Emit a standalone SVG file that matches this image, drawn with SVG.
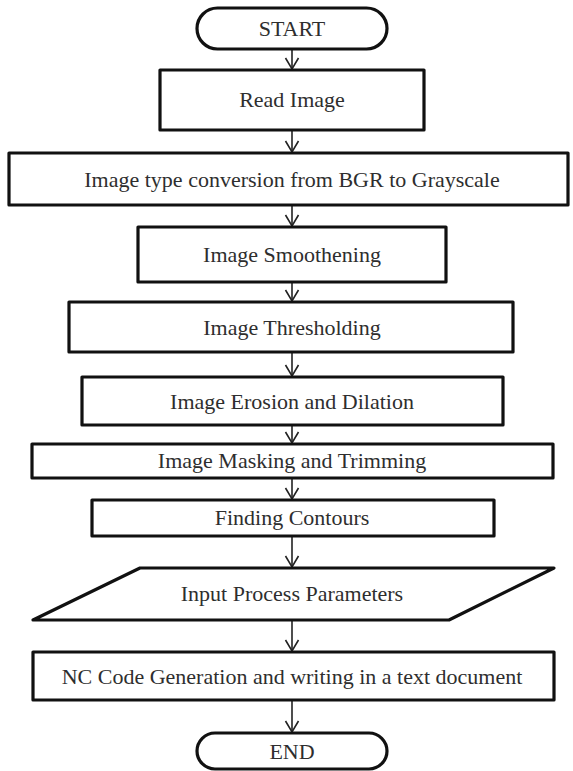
<svg xmlns="http://www.w3.org/2000/svg" width="573" height="771" viewBox="0 0 573 771">
<defs>
<style>
.box{fill:#fff;stroke:#111;stroke-width:3.2;stroke-linejoin:round}
.lbl{font-family:"Liberation Serif","Times New Roman",Times,"DejaVu Serif",serif;font-size:22px;fill:#2e2e2e;text-anchor:middle}
.conn{stroke:#222;stroke-width:1.6;fill:none}
</style>
<marker id="ah" markerWidth="16" markerHeight="16" viewBox="0 0 16 16" refX="13" refY="8" orient="auto" markerUnits="userSpaceOnUse">
<path d="M2,1.5 L13,8 L2,14.5" fill="none" stroke="#222" stroke-width="1.6"/>
</marker>
</defs>
<rect width="573" height="771" fill="#fff"/>
<g id="connectors">
<line class="conn" x1="292" y1="49" x2="292" y2="69" marker-end="url(#ah)"/>
<line class="conn" x1="292" y1="131" x2="292" y2="152" marker-end="url(#ah)"/>
<line class="conn" x1="292" y1="206" x2="292" y2="226" marker-end="url(#ah)"/>
<line class="conn" x1="292" y1="283" x2="292" y2="301" marker-end="url(#ah)"/>
<line class="conn" x1="292" y1="353" x2="292" y2="376" marker-end="url(#ah)"/>
<line class="conn" x1="292" y1="426" x2="292" y2="443" marker-end="url(#ah)"/>
<line class="conn" x1="292" y1="479" x2="292" y2="499" marker-end="url(#ah)"/>
<line class="conn" x1="292" y1="537" x2="292" y2="567" marker-end="url(#ah)"/>
<line class="conn" x1="292" y1="621" x2="292" y2="651" marker-end="url(#ah)"/>
<line class="conn" x1="292" y1="701" x2="292" y2="732" marker-end="url(#ah)"/>
</g>
<g id="start">
<rect class="box" x="197" y="8" width="190" height="41" rx="20.5"/>
<text class="lbl" x="292" y="36">START</text>
</g>
<g id="read">
<rect class="box" x="160" y="70" width="264" height="60"/>
<text class="lbl" x="292" y="107">Read Image</text>
</g>
<g id="convert">
<rect class="box" x="9" y="153" width="559" height="52"/>
<text class="lbl" x="292" y="187">Image type conversion from BGR to Grayscale</text>
</g>
<g id="smooth">
<rect class="box" x="138" y="227" width="308" height="55"/>
<text class="lbl" x="292" y="262">Image Smoothening</text>
</g>
<g id="threshold">
<rect class="box" x="69" y="302" width="444" height="50"/>
<text class="lbl" x="292" y="335">Image Thresholding</text>
</g>
<g id="erosion">
<rect class="box" x="82" y="377" width="421" height="48"/>
<text class="lbl" x="292" y="409">Image Erosion and Dilation</text>
</g>
<g id="masking">
<rect class="box" x="32" y="444" width="521" height="34"/>
<text class="lbl" x="292" y="468">Image Masking and Trimming</text>
</g>
<g id="contours">
<rect class="box" x="92" y="500" width="402" height="36"/>
<text class="lbl" x="292" y="525">Finding Contours</text>
</g>
<g id="input">
<polygon class="box" points="140,568 554,568 449,620 33,620"/>
<text class="lbl" x="292" y="601">Input Process Parameters</text>
</g>
<g id="nccode">
<rect class="box" x="33" y="652" width="521" height="48"/>
<text class="lbl" x="292" y="684">NC Code Generation and writing in a text document</text>
</g>
<g id="end">
<rect class="box" x="197" y="733" width="190" height="36" rx="18"/>
<text class="lbl" x="292" y="759">END</text>
</g>
</svg>
